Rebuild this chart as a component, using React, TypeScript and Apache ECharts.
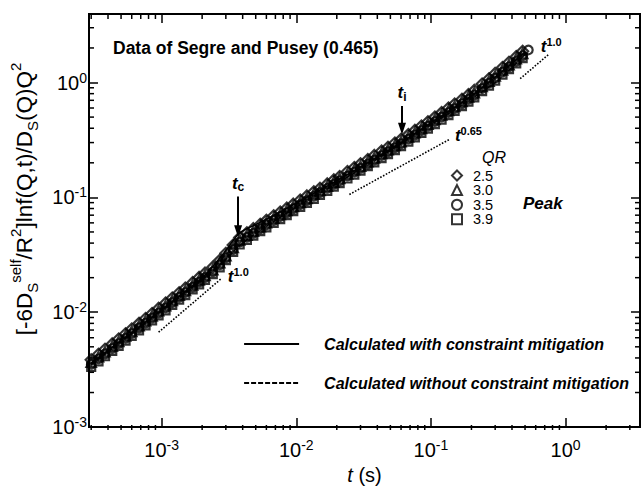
import React, { useEffect, useRef } from "react";
import * as echarts from "echarts";

const FONT = '"Liberation Sans", Arial, Helvetica, sans-serif';

// time grid of the measurements (s)
const tValues = [
  3.0e-4, 3.4e-4, 3.8e-4, 4.3e-4, 4.8e-4, 5.4e-4, 6.0e-4, 6.8e-4, 7.6e-4, 8.5e-4,
  9.5e-4, 1.07e-3, 1.2e-3, 1.35e-3, 1.5e-3, 1.7e-3, 1.9e-3, 2.1e-3, 2.4e-3, 2.7e-3,
  3.0e-3, 3.4e-3, 3.8e-3, 4.3e-3, 4.8e-3, 5.4e-3, 6.0e-3, 6.8e-3, 7.6e-3, 8.5e-3,
  9.5e-3, 0.0107, 0.012, 0.0135, 0.015, 0.017, 0.019, 0.021, 0.024, 0.027,
  0.03, 0.034, 0.038, 0.043, 0.048, 0.054, 0.06, 0.068, 0.076, 0.085,
  0.095, 0.107, 0.12, 0.135, 0.15, 0.17, 0.19, 0.21, 0.24, 0.27,
  0.3, 0.34, 0.38, 0.43, 0.48,
];

// QR = 2.5 (diamonds)
const qr25 = [
  3.85e-3, 4.3e-3, 4.76e-3, 5.3e-3, 5.85e-3, 6.5e-3, 7.15e-3, 8.0e-3, 8.83e-3, 9.75e-3,
  0.0108, 0.012, 0.0133, 0.0148, 0.0162, 0.0181, 0.0201, 0.0219, 0.0247, 0.0283,
  0.0326, 0.0385, 0.0447, 0.0491, 0.0534, 0.0584, 0.0631, 0.0691, 0.0745, 0.0806,
  0.0873, 0.0949, 0.103, 0.112, 0.12, 0.131, 0.142, 0.152, 0.168, 0.182,
  0.196, 0.214, 0.232, 0.253, 0.273, 0.297, 0.32, 0.352, 0.383, 0.418,
  0.456, 0.5, 0.547, 0.599, 0.65, 0.716, 0.784, 0.854, 0.969, 1.08,
  1.2, 1.35, 1.5, 1.68, 1.87,
];
// QR = 3.0 (triangles)
const qr30 = [
  3.67e-3, 4.1e-3, 4.54e-3, 5.06e-3, 5.58e-3, 6.21e-3, 6.82e-3, 7.64e-3, 8.43e-3, 9.31e-3,
  0.0103, 0.0114, 0.0127, 0.0141, 0.0155, 0.0173, 0.0191, 0.0209, 0.0235, 0.027,
  0.0311, 0.0367, 0.0427, 0.0469, 0.0509, 0.0557, 0.0602, 0.0659, 0.0711, 0.0769,
  0.0833, 0.0906, 0.0982, 0.107, 0.115, 0.125, 0.136, 0.146, 0.16, 0.174,
  0.187, 0.205, 0.221, 0.241, 0.261, 0.283, 0.305, 0.336, 0.366, 0.399,
  0.435, 0.477, 0.522, 0.571, 0.621, 0.684, 0.748, 0.815, 0.924, 1.03,
  1.14, 1.29, 1.43, 1.61, 1.79,
];
// QR = 3.5 (circles, peak)
const qr35 = [
  3.51e-3, 3.92e-3, 4.33e-3, 4.83e-3, 5.33e-3, 5.93e-3, 6.51e-3, 7.29e-3, 8.05e-3, 8.89e-3,
  0.00984, 0.0109, 0.0121, 0.0135, 0.0148, 0.0165, 0.0183, 0.02, 0.0225, 0.0258,
  0.0297, 0.0351, 0.0407, 0.0448, 0.0486, 0.0532, 0.0575, 0.0629, 0.0679, 0.0734,
  0.0796, 0.0865, 0.0937, 0.102, 0.11, 0.12, 0.13, 0.139, 0.153, 0.166,
  0.179, 0.195, 0.211, 0.231, 0.249, 0.27, 0.292, 0.321, 0.349, 0.381,
  0.416, 0.456, 0.499, 0.546, 0.593, 0.653, 0.714, 0.778, 0.883, 0.986,
  1.09, 1.23, 1.37, 1.53, 1.71,
];
const qr35TailT = [0.53];
const qr35TailY = [1.92];
// QR = 3.9 (squares)
const qr39 = [
  3.35e-3, 3.74e-3, 4.14e-3, 4.61e-3, 5.09e-3, 5.66e-3, 6.22e-3, 6.96e-3, 7.69e-3, 8.49e-3,
  0.0094, 0.0104, 0.0116, 0.0129, 0.0141, 0.0158, 0.0175, 0.0191, 0.0215, 0.0246,
  0.0284, 0.0335, 0.0389, 0.0427, 0.0464, 0.0508, 0.0549, 0.0601, 0.0648, 0.0701,
  0.076, 0.0826, 0.0895, 0.0972, 0.105, 0.114, 0.124, 0.133, 0.146, 0.158,
  0.171, 0.187, 0.202, 0.22, 0.238, 0.258, 0.279, 0.306, 0.333, 0.364,
  0.397, 0.435, 0.476, 0.521, 0.566, 0.624, 0.682, 0.743, 0.843, 0.941,
  1.04, 1.17, 1.31, 1.47, 1.63,
];

const qrNames = ["2.5", "3.0", "3.5", "3.9"];

// calculated curves
const solidName = "Calculated with constraint mitigation";
const solidT = [3e-4, 1e-3, 2e-3, 2.4e-3, 3e-3, 3.8e-3, 5e-3, 7e-3, 1e-2, 2e-2, 5e-2, 0.1, 0.2, 0.5];
const solidY = [3.6e-3, 0.0105, 0.0198, 0.025, 0.0345, 0.049, 0.058, 0.071, 0.089, 0.14, 0.262, 0.445, 0.765, 1.83];
const dashName = "Calculated without constraint mitigation";
const dashT = [3e-4, 1e-3, 2e-3, 3e-3, 4e-3, 6e-3, 1e-2, 3e-2, 0.1, 0.3, 0.5];
const dashY = [3.5e-3, 0.0103, 0.0192, 0.029, 0.04, 0.056, 0.082, 0.176, 0.43, 1.0, 1.76];

// power-law guide lines
const slopeLowT = [9.5e-4, 2.8e-3];
const slopeLowY = [6.7e-3, 1.98e-2];
const slopeMidT = [0.0248, 0.136];
const slopeMidY = [0.106, 0.318];
const slopeHighT = [0.46, 0.75];
const slopeHighY = [1.08, 1.76];
const slopeLabels = ["1.0", "0.65", "1.0"];

// arrows t_c and t_i
const arrowT = [3.7e-3, 0.061];
const arrowTop = [0.102, 0.626];
const arrowTip = [0.0508, 0.396];
const arrowSubs = ["c", "i"];

// axis ticks
const xMajorTicks = [1e-3, 1e-2, 1e-1, 1];
const xMinorTicks = [
  3e-4, 4e-4, 5e-4, 6e-4, 7e-4, 8e-4, 9e-4,
  2e-3, 3e-3, 4e-3, 5e-3, 6e-3, 7e-3, 8e-3, 9e-3,
  2e-2, 3e-2, 4e-2, 5e-2, 6e-2, 7e-2, 8e-2, 9e-2,
  0.2, 0.3, 0.4, 0.5, 0.6, 0.7, 0.8, 0.9, 2, 3,
];
const yMajorTicks = [1e-2, 1e-1, 1];
const yMinorTicks = [
  2e-3, 3e-3, 4e-3, 5e-3, 6e-3, 7e-3, 8e-3, 9e-3,
  2e-2, 3e-2, 4e-2, 5e-2, 6e-2, 7e-2, 8e-2, 9e-2,
  0.2, 0.3, 0.4, 0.5, 0.6, 0.7, 0.8, 0.9, 2, 3,
];

const X_MIN = 2.89e-4;
const X_MAX = 3.57;
const Y_MIN = 1e-3;
const Y_MAX = 3.95;

const MAJ_LEN = 9;
const MIN_LEN = 5;

const pairs = (xs: number[], ys: number[]) => xs.map((x, i) => [x, ys[i]]);

const powLabel = (v: number) => {
  const e = Math.log10(v);
  const r = Math.round(e);
  if (Math.abs(e - r) > 1e-6) return "";
  return "{b|10}{s|" + r + "}";
};

const labelRich = (size: number) => ({
  b: { fontFamily: FONT, fontSize: size, lineHeight: 24, color: "#000" },
  s: { fontFamily: FONT, fontSize: 14, lineHeight: 14, verticalAlign: "top", color: "#000" },
});

const tickStyle = { show: true, inside: true, length: MAJ_LEN, lineStyle: { color: "#000", width: 1.5 } };

export default function App() {
  const ref = useRef<HTMLDivElement>(null);
  useEffect(() => {
    document.body.style.margin = "0";
    const chart = echarts.init(ref.current!, null, { renderer: "svg" });
    const markerStyle = { color: "rgba(0,0,0,0)", borderColor: "#000", borderWidth: 2.2 };
    const qrSeries = [qr25, qr30, qr35, qr39].map((ys, k) => ({
      name: qrNames[k],
      type: "scatter",
      symbol: ["diamond", "triangle", "circle", "rect"][k],
      symbolSize: [11, 9.5, 8.5, 8][k],
      itemStyle: markerStyle,
      data: k === 2 ? pairs(tValues, ys).concat(pairs(qr35TailT, qr35TailY)) : pairs(tValues, ys),
      z: 3,
    }));
    const slopeSeries = [
      [slopeLowT, slopeLowY, [6, -2]],
      [slopeMidT, slopeMidY, [6, -4]],
      [slopeHighT, slopeHighY, [-8, -8]],
    ].map(([xs, ys, off]: any, k) => ({
      type: "line",
      data: pairs(xs, ys),
      symbol: "none",
      lineStyle: { color: "#000", width: 1.6, type: [1.6, 1.6] },
      z: 4,
      endLabel: {
        show: true,
        distance: 0,
        offset: off,
        formatter: "{t|t}{s|" + slopeLabels[k] + "}",
        rich: {
          t: { fontFamily: FONT, fontSize: 17, fontStyle: "italic", fontWeight: "bold", lineHeight: 20, color: "#000" },
          s: { fontFamily: FONT, fontSize: 11, fontWeight: "bold", lineHeight: 11, verticalAlign: "top", color: "#000" },
        },
      },
    }));

    const legendBase = {
      orient: "vertical",
      left: 451,
      padding: 0,
      itemWidth: 10,
      itemHeight: 10,
      selectedMode: false,
      textStyle: { fontFamily: FONT, fontSize: 14.5, lineHeight: 13, color: "#000", padding: [0, 0, 0, 6] },
    };
    const baseGraphic: any[] = [
      {
        type: "text",
        x: 24,
        y: 199,
        rotation: Math.PI / 2,
        style: {
          text: "{n|[-6D}{b|S}{p|self}{n|/R}{p|2}{n|]lnf(Q,t)/D}{b|S}{n|(Q)Q}{p|2}",
          align: "center",
          verticalAlign: "middle",
          textAlign: "center",
          textVerticalAlign: "middle",
          rich: {
            n: { fontFamily: FONT, fontSize: 22.5, lineHeight: 32, fill: "#000" },
            p: { fontFamily: FONT, fontSize: 15, lineHeight: 15, verticalAlign: "top", fill: "#000" },
            b: { fontFamily: FONT, fontSize: 15, lineHeight: 15, verticalAlign: "bottom", fill: "#000" },
          },
        },
      },
      {
        type: "text",
        x: 482,
        y: 157,
        style: {
          text: "QR",
          fontFamily: FONT,
          fontSize: 16,
          fontStyle: "italic",
          fill: "#000",
          align: "left",
          verticalAlign: "middle",
          textAlign: "left",
          textVerticalAlign: "middle",
        },
      },
      {
        type: "text",
        x: 523,
        y: 203,
        style: {
          text: "Peak",
          fontFamily: FONT,
          fontSize: 17,
          fontStyle: "italic",
          fontWeight: "bold",
          fill: "#000",
          align: "left",
          verticalAlign: "middle",
          textAlign: "left",
          textVerticalAlign: "middle",
        },
      },
    ];
    const mirrorX = {
      type: "log",
      logBase: 10,
      min: X_MIN,
      max: X_MAX,
      position: "top",
      axisLine: { show: false },
      axisTick: tickStyle,
      axisLabel: { show: false },
      splitLine: { show: false },
    };
    const mirrorY = {
      type: "log",
      logBase: 10,
      min: Y_MIN,
      max: Y_MAX,
      position: "right",
      axisLine: { show: false },
      axisTick: tickStyle,
      axisLabel: { show: false },
      splitLine: { show: false },
    };
    const option: any = {
      animation: false,
      backgroundColor: "#fff",
      title: {
        text: "Data of Segre and Pusey (0.465)",
        left: 108,
        top: 34,
        textStyle: { fontFamily: FONT, fontSize: 17.5, fontWeight: "bold", color: "#000" },
      },
      grid: { left: 89, top: 14, right: 1, bottom: 60, show: true, borderColor: "#000", borderWidth: 2 },
      xAxis: [
        {
          type: "log",
          logBase: 10,
          min: X_MIN,
          max: X_MAX,
          position: "bottom",
          axisLine: { show: false },
          axisTick: tickStyle,
          splitLine: { show: false },
          axisLabel: { formatter: powLabel, rich: labelRich(20), margin: 11, interval: 0, showMinLabel: false, showMaxLabel: false },
          name: "{i|t} (s)",
          nameLocation: "middle",
          nameGap: 36,
          nameTextStyle: {
            fontFamily: FONT,
            fontSize: 20,
            color: "#000",
            rich: { i: { fontFamily: FONT, fontSize: 20, fontStyle: "italic", color: "#000" } },
          },
        },
        mirrorX,
      ],
      yAxis: [
        {
          type: "log",
          logBase: 10,
          min: Y_MIN,
          max: Y_MAX,
          position: "left",
          axisLine: { show: false },
          axisTick: tickStyle,
          splitLine: { show: false },
          axisLabel: { formatter: powLabel, rich: labelRich(20), margin: 2, interval: 0, showMaxLabel: false },
        },
        mirrorY,
      ],
      legend: [
        ...qrNames.map((n, i) => ({ ...legendBase, top: 168 + i * 14.6, data: [n] })),
        {
          orient: "vertical",
          left: 243,
          top: 336,
          padding: 0,
          itemWidth: 55,
          itemHeight: 14,
          itemGap: 23,
          selectedMode: false,
          data: [solidName, dashName],
          itemStyle: { color: "rgba(0,0,0,0)", borderWidth: 0, opacity: 0 },
          lineStyle: { width: 2.2 },
          textStyle: {
            fontFamily: FONT,
            fontSize: 16,
            fontStyle: "italic",
            fontWeight: "bold",
            color: "#000",
            padding: [0, 0, 0, 20],
          },
        },
      ],
      series: [
        ...qrSeries,
        {
          name: solidName,
          type: "line",
          data: pairs(solidT, solidY),
          symbol: "none",
          smooth: 0.3,
          lineStyle: { color: "#000", width: 1.5, type: "solid" },
          itemStyle: { color: "#000" },
          z: 4,
        },
        {
          name: dashName,
          type: "line",
          data: pairs(dashT, dashY),
          symbol: "none",
          smooth: 0.3,
          lineStyle: { color: "#000", width: 1.5, type: [5, 2] },
          itemStyle: { color: "#000" },
          z: 4,
        },
        ...slopeSeries,
        {
          type: "line",
          data: pairs(arrowT, arrowTip),
          symbol: "none",
          lineStyle: { width: 0, opacity: 0 },
          z: 5,
          markLine: {
            silent: true,
            symbol: ["none", "triangle"],
            symbolSize: [8, 12],
            lineStyle: { color: "#000", width: 2, type: "solid" },
            label: {
              show: true,
              position: "start",
              distance: 3,
              formatter: (p: any) => "{t|t}{s|" + p.name + "}",
              rich: {
                t: { fontFamily: FONT, fontSize: 17, fontStyle: "italic", fontWeight: "bold", lineHeight: 20, color: "#000" },
                s: { fontFamily: FONT, fontSize: 12, fontWeight: "bold", lineHeight: 12, verticalAlign: "bottom", color: "#000" },
              },
            },
            data: arrowT.map((t, i) => [
              { coord: [t, arrowTop[i]], name: arrowSubs[i] },
              { coord: [t, arrowTip[i]] },
            ]),
          },
        },
      ],
      graphic: baseGraphic,
    };
    chart.setOption(option);

    // minor (and major) inward tick marks, positioned through the chart's own log scales
    try {
      const tickEls: any[] = [];
      const st = { stroke: "#000", lineWidth: 1.5 };
      const pBL = chart.convertToPixel({ xAxisIndex: 0, yAxisIndex: 0 } as any, [X_MIN * 1.01, Y_MIN * 1.01]) as number[];
      const pTR = chart.convertToPixel({ xAxisIndex: 0, yAxisIndex: 0 } as any, [X_MAX / 1.01, Y_MAX / 1.01]) as number[];
      if (pBL && pTR) {
        const left = 89;
        const bottom = 430;
        const right = 640;
        const top = 14;
        const addX = (v: number, len: number) => {
          const p = chart.convertToPixel({ xAxisIndex: 0, yAxisIndex: 0 } as any, [v, 0.01]) as number[];
          if (!p || !isFinite(p[0])) return;
          tickEls.push({ type: "line", z: 100, shape: { x1: p[0], y1: bottom, x2: p[0], y2: bottom - len }, style: st });
          tickEls.push({ type: "line", z: 100, shape: { x1: p[0], y1: top, x2: p[0], y2: top + len }, style: st });
        };
        const addY = (v: number, len: number) => {
          const p = chart.convertToPixel({ xAxisIndex: 0, yAxisIndex: 0 } as any, [0.01, v]) as number[];
          if (!p || !isFinite(p[1])) return;
          tickEls.push({ type: "line", z: 100, shape: { x1: left, y1: p[1], x2: left + len, y2: p[1] }, style: st });
          tickEls.push({ type: "line", z: 100, shape: { x1: right, y1: p[1], x2: right - len, y2: p[1] }, style: st });
        };
        xMinorTicks.forEach((v) => addX(v, MIN_LEN));
        yMinorTicks.forEach((v) => addY(v, MIN_LEN));
        void xMajorTicks;
        void yMajorTicks;
        chart.setOption({ graphic: [...baseGraphic, ...tickEls] });
      }
    } catch (e) {
      // keep the chart even if the extra ticks fail
    }
    return () => chart.dispose();
  }, []);
  return <div ref={ref} style={{ width: 641, height: 490 }} />;
}
